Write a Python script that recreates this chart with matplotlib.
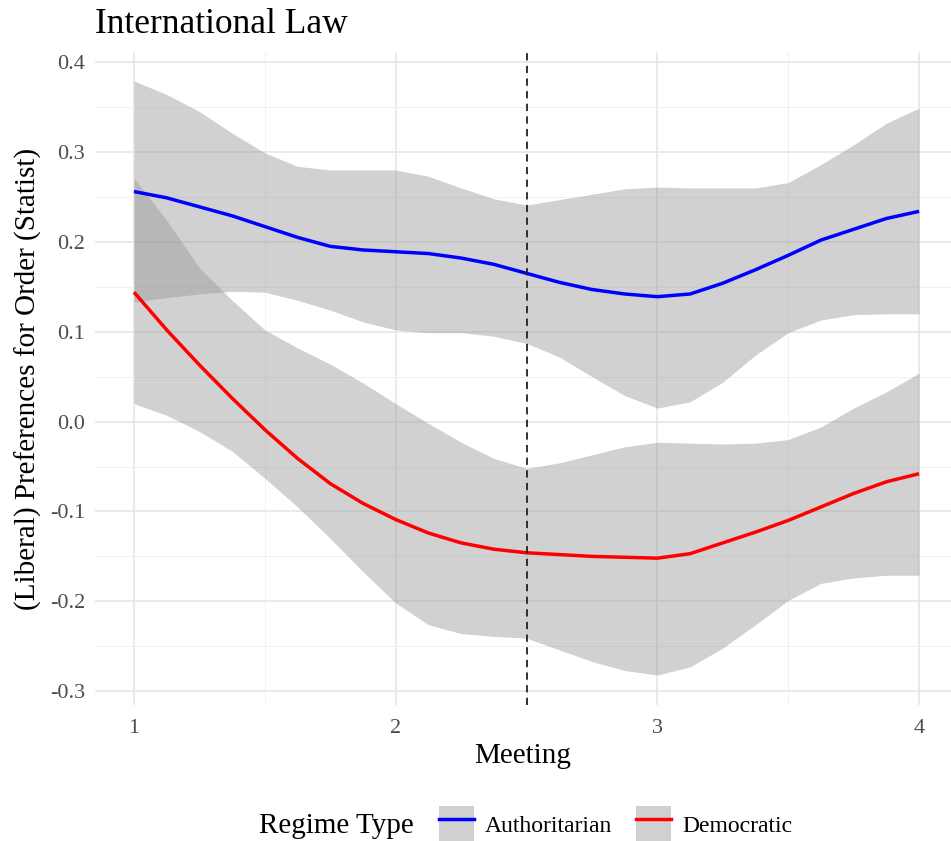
import matplotlib
matplotlib.use("Agg")
import matplotlib.pyplot as plt
from matplotlib.patches import Patch
from matplotlib.lines import Line2D
from matplotlib.ticker import FixedLocator

plt.rcParams['font.family'] = ['Liberation Serif', 'DejaVu Serif']

# Data (smoothed fits with confidence bands)
meeting = [1.0, 1.125, 1.25, 1.375, 1.5, 1.625, 1.75, 1.875, 2.0, 2.125, 2.25, 2.375, 2.5,
           2.625, 2.75, 2.875, 3.0, 3.125, 3.25, 3.375, 3.5, 3.625, 3.75, 3.875, 4.0]

auth_fit = [0.256, 0.249, 0.239, 0.229, 0.217, 0.205, 0.195, 0.191, 0.189, 0.187, 0.182, 0.175, 0.165,
            0.155, 0.147, 0.142, 0.139, 0.142, 0.154, 0.169, 0.185, 0.202, 0.214, 0.226, 0.234]
auth_upper = [0.379, 0.364, 0.345, 0.321, 0.299, 0.284, 0.280, 0.280, 0.280, 0.273, 0.260, 0.248, 0.241,
              0.247, 0.253, 0.259, 0.261, 0.260, 0.260, 0.260, 0.266, 0.286, 0.308, 0.332, 0.349]
auth_lower = [0.133, 0.138, 0.142, 0.145, 0.144, 0.135, 0.124, 0.111, 0.102, 0.099, 0.099, 0.095, 0.087,
              0.072, 0.050, 0.029, 0.015, 0.022, 0.044, 0.074, 0.099, 0.113, 0.119, 0.120, 0.120]

demo_fit = [0.144, 0.102, 0.063, 0.026, -0.009, -0.041, -0.069, -0.091, -0.109, -0.124, -0.135, -0.142, -0.146,
            -0.148, -0.150, -0.151, -0.152, -0.147, -0.135, -0.123, -0.110, -0.095, -0.080, -0.067, -0.058]
demo_upper = [0.271, 0.224, 0.171, 0.135, 0.102, 0.082, 0.064, 0.043, 0.020, -0.002, -0.023, -0.041, -0.052,
              -0.046, -0.037, -0.028, -0.023, -0.024, -0.025, -0.024, -0.020, -0.006, 0.015, 0.033, 0.054]
demo_lower = [0.020, 0.007, -0.011, -0.033, -0.063, -0.095, -0.130, -0.167, -0.202, -0.226, -0.236, -0.239, -0.241,
              -0.254, -0.267, -0.277, -0.282, -0.273, -0.252, -0.226, -0.199, -0.180, -0.174, -0.171, -0.171]

groups = ["Authoritarian", "Democratic"]
colors = {"Authoritarian": "#0000FF", "Democratic": "#FF0000"}
cutoff = 2.5

y_ticks = [-0.3, -0.2, -0.1, 0.0, 0.1, 0.2, 0.3, 0.4]
x_ticks = [1, 2, 3, 4]

W, H = 951, 841
fig = plt.figure(figsize=(W / 100, H / 100), dpi=100)
left_px, right_px, top_px, bot_px = 95, 951, 52, 705
ax = fig.add_axes([left_px / W, 1 - bot_px / H, (right_px - left_px) / W, (bot_px - top_px) / H])

for s in ax.spines.values():
    s.set_visible(False)

ax.set_xlim(0.851, 4.122)
ax.set_ylim(-0.3154, 0.4113)

ax.xaxis.set_major_locator(FixedLocator(x_ticks))
ax.xaxis.set_minor_locator(FixedLocator([1.5, 2.5, 3.5]))
ax.yaxis.set_major_locator(FixedLocator(y_ticks))
ax.yaxis.set_minor_locator(FixedLocator([-0.25, -0.15, -0.05, 0.05, 0.15, 0.25, 0.35]))
ax.set_xticklabels([str(t) for t in x_ticks])
ax.set_yticklabels([f"{t:.1f}" for t in y_ticks])

ax.grid(which='major', color='#e6e6e6', lw=1.2, zorder=0)
ax.grid(which='minor', color='#f0f0f0', lw=0.7, zorder=0)
ax.set_axisbelow(True)
ax.tick_params(which='both', length=0)
ax.tick_params(axis='y', labelsize=16, labelcolor='#4d4d4d', pad=7)
ax.tick_params(axis='x', labelsize=16, labelcolor='#4d4d4d', pad=10)

series = {
    "Authoritarian": (auth_fit, auth_lower, auth_upper),
    "Democratic": (demo_fit, demo_lower, demo_upper),
}
for g in groups:
    fit, lo, hi = series[g]
    ax.fill_between(meeting, lo, hi, color='#999999', alpha=0.45, lw=0, zorder=2)
    ax.plot(meeting, fit, color=colors[g], lw=2.5, zorder=3, solid_capstyle='butt',
            solid_joinstyle='round')

ax.axvline(cutoff, color='#222222', lw=1.3, ls=(0, (4, 3)), zorder=4)

ax.set_xlabel("Meeting", fontsize=21, labelpad=4)
ax.set_ylabel("(Liberal) Preferences for Order (Statist)", fontsize=21, labelpad=6)
fig.text(left_px / W, 1 - 33 / H, "International Law", fontsize=25.5, ha='left', va='baseline')

# Legend
fig.text(259 / W, 1 - 826 / H, "Regime Type", fontsize=21, ha='left', va='center')
handles = []
for g in groups:
    handles.append((Patch(facecolor='#d0d0d0', edgecolor='none'),
                    Line2D([], [], color=colors[g], lw=2.5)))
leg = fig.legend(handles, groups, loc='center left', bbox_to_anchor=(439 / W, 1 - 824 / H),
                 ncol=2, frameon=False, fontsize=17, handlelength=1.5, handleheight=1.95,
                 handletextpad=0.45, columnspacing=1.0, borderpad=0, borderaxespad=0)

fig.savefig("out.png", dpi=100)
